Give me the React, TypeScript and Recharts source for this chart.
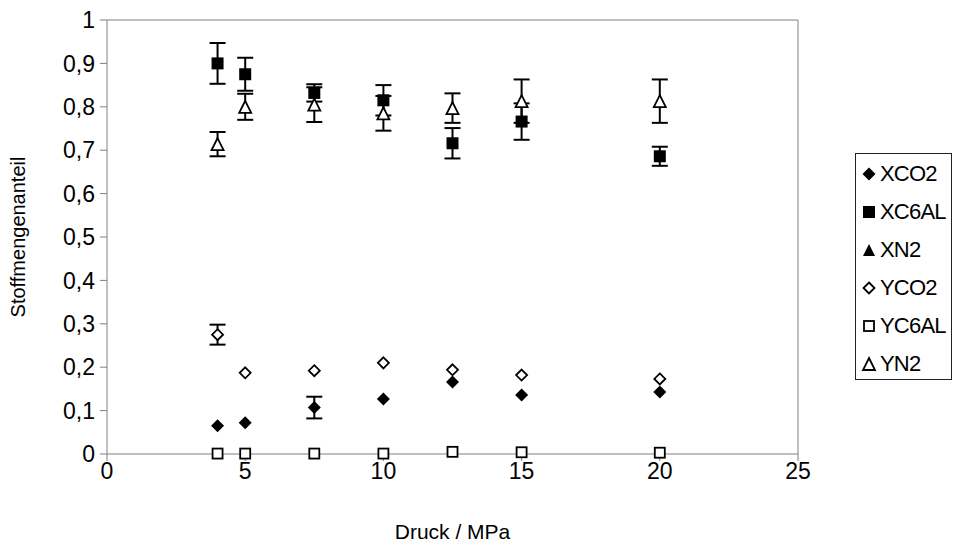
import {
  ErrorBar,
  ReferenceLine,
  Scatter,
  ScatterChart,
  XAxis,
  YAxis,
} from "recharts";

const pressure = [4, 5, 7.5, 10, 12.5, 15, 20];

const xCO2 = [0.065, 0.072, 0.107, 0.127, 0.166, 0.136, 0.143];
const xCO2Err = [null, null, 0.025, null, null, null, null];
const xC6AL = [0.9, 0.875, 0.832, 0.815, 0.716, 0.766, 0.686];
const xC6ALErr = [0.047, 0.038, 0.02, 0.035, 0.035, 0.042, 0.022];
const xN2: (number | null)[] = [null, null, null, null, null, null, null];
const yCO2 = [0.275, 0.187, 0.192, 0.21, 0.194, 0.182, 0.173];
const yCO2Err = [0.023, null, null, null, null, null, null];
const yC6AL = [0.001, 0.001, 0.001, 0.001, 0.005, 0.004, 0.003];
const yN2 = [0.714, 0.8, 0.805, 0.785, 0.797, 0.813, 0.813];
const yN2Err = [0.028, 0.03, 0.04, 0.04, 0.034, 0.05, 0.05];

const xTicks = [0, 5, 10, 15, 20, 25];
const yTicks = [0, 0.1, 0.2, 0.3, 0.4, 0.5, 0.6, 0.7, 0.8, 0.9, 1];

type Pt = { x: number; y: number; err: number | null };

const toPoints = (ys: (number | null)[], errs?: (number | null)[]): Pt[] =>
  pressure
    .map((x, i) => ({ x, y: ys[i] as number, err: errs ? errs[i] : null }))
    .filter((p) => p.y != null);

type Kind = "diamond" | "square" | "triangle";

function Marker({ kind, filled, cx, cy }: { kind: Kind; filled: boolean; cx: number; cy: number }) {
  const fill = filled ? "#000" : "#fff";
  const sw = filled ? 0 : 1.8;
  if (kind === "diamond") {
    const r = filled ? 6.5 : 5.5;
    return (
      <polygon
        points={`${cx},${cy - r} ${cx + r},${cy} ${cx},${cy + r} ${cx - r},${cy}`}
        fill={fill}
        stroke="#000"
        strokeWidth={sw}
      />
    );
  }
  if (kind === "square") {
    const h = filled ? 6 : 5;
    return <rect x={cx - h} y={cy - h} width={h * 2} height={h * 2} fill={fill} stroke="#000" strokeWidth={sw} />;
  }
  const h = 6;
  return (
    <polygon
      points={`${cx},${cy - h} ${cx + h},${cy + h} ${cx - h},${cy + h}`}
      fill={fill}
      stroke="#000"
      strokeWidth={sw}
    />
  );
}

const SERIES: { name: string; kind: Kind; filled: boolean; data: Pt[] }[] = [
  { name: "XCO2", kind: "diamond", filled: true, data: toPoints(xCO2, xCO2Err) },
  { name: "XC6AL", kind: "square", filled: true, data: toPoints(xC6AL, xC6ALErr) },
  { name: "XN2", kind: "triangle", filled: true, data: toPoints(xN2) },
  { name: "YCO2", kind: "diamond", filled: false, data: toPoints(yCO2, yCO2Err) },
  { name: "YC6AL", kind: "square", filled: false, data: toPoints(yC6AL) },
  { name: "YN2", kind: "triangle", filled: false, data: toPoints(yN2, yN2Err) },
];

const FONT = "'Liberation Sans', Arial, sans-serif";
const AXIS = "#808080";

const fmtY = (v: number) => String(Math.round(v * 10) / 10).replace(".", ",");

function LegendBox() {
  return (
    <div
      style={{
        position: "absolute",
        left: 855,
        top: 153,
        width: 97,
        height: 227,
        boxSizing: "border-box",
        border: "1px solid #222",
        background: "#fff",
        paddingTop: 1,
        fontFamily: FONT,
        fontSize: 22,
        letterSpacing: -0.8,
      }}
    >
      {SERIES.map((s) => (
        <div key={s.name} style={{ display: "flex", alignItems: "center", height: 38 }}>
          <svg width={24} height={20} style={{ flex: "none" }}>
            <Marker kind={s.kind} filled={s.filled} cx={13} cy={10} />
          </svg>
          <span>{s.name}</span>
        </div>
      ))}
    </div>
  );
}

export default function App() {
  return (
    <div style={{ position: "absolute", left: 0, top: 0, width: 955, height: 545, background: "#fff" }}>
      <ScatterChart
        width={955}
        height={545}
        margin={{ top: 20, right: 157, bottom: 61, left: 0 }}
        style={{ fontFamily: FONT }}
      >
        <XAxis
          type="number"
          dataKey="x"
          domain={[0, 25]}
          ticks={xTicks}
          height={30}
          tickSize={7}
          tickMargin={2}
          stroke={AXIS}
          tick={{ fill: "#000", fontSize: 23 }}
          allowDataOverflow
          label={{ value: "Druck / MPa", position: "insideBottom", offset: -55, fill: "#000", fontSize: 21 }}
        />
        <YAxis
          type="number"
          dataKey="y"
          domain={[0, 1]}
          ticks={yTicks}
          width={107}
          tickSize={7}
          tickMargin={5}
          stroke={AXIS}
          tickFormatter={fmtY}
          tick={{ fill: "#000", fontSize: 23 }}
          label={{
            value: "Stoffmengenanteil",
            angle: -90,
            position: "insideLeft",
            offset: 18,
            fill: "#000",
            fontSize: 20,
            style: { textAnchor: "middle" },
          }}
        />
        <ReferenceLine y={1} stroke={AXIS} />
        <ReferenceLine x={25} stroke={AXIS} />
        {SERIES.map((s) => (
          <Scatter
            key={s.name}
            name={s.name}
            data={s.data}
            isAnimationActive={false}
            shape={(p: any) => <Marker kind={s.kind} filled={s.filled} cx={p.cx} cy={p.cy} />}
          >
            <ErrorBar dataKey="err" direction="y" width={8} stroke="#000" strokeWidth={2} isAnimationActive={false} />
          </Scatter>
        ))}
      </ScatterChart>
      <LegendBox />
    </div>
  );
}
